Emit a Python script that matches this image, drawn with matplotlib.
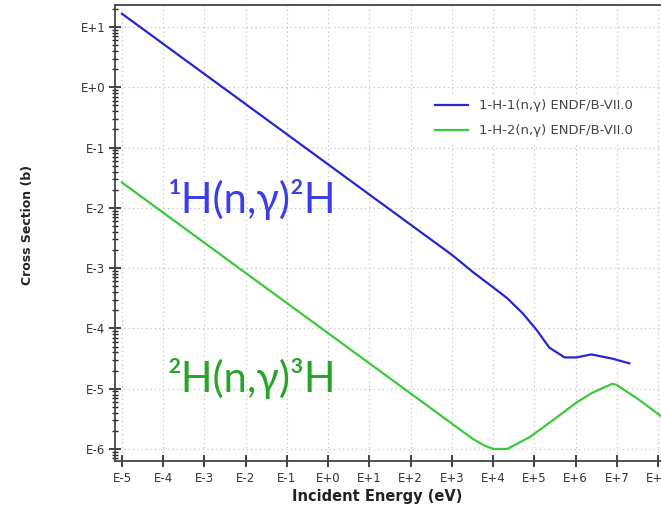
import matplotlib
matplotlib.use("Agg")
import matplotlib.pyplot as plt
from matplotlib.ticker import FixedLocator, FuncFormatter, NullLocator, NullFormatter
import numpy as np

# ---- data (energies in eV, cross sections in barns) ----
h1_energy = [1e-5, 1e-2, 1e1, 1e3, 3.3e3, 1e4, 2.2e4, 5.2e4, 1.15e5, 2.3e5,
             5.4e5, 1.05e6, 2.4e6, 7.6e6, 2.0e7]
h1_xs = [16.6, 0.525, 0.0166, 1.66e-3, 8.5e-4, 4.8e-4, 3.16e-4, 1.78e-4, 9.3e-5,
         4.8e-5, 3.3e-5, 3.3e-5, 3.7e-5, 3.16e-5, 2.63e-5]

h2_energy = [1e-5, 1e-2, 1e1, 1e3, 3.3e3, 6e3, 1e4, 2.2e4, 7.8e4, 2.8e5, 1.05e6,
             2.5e6, 7.6e6, 9.5e6, 3.4e7, 9e7, 1.5e8]
h2_xs = [0.0263, 8.3e-4, 2.63e-5, 2.63e-6, 1.45e-6, 1.15e-6, 1.0e-6, 1.0e-6, 1.58e-6,
         3.0e-6, 5.9e-6, 8.5e-6, 1.2e-5, 1.17e-5, 6.6e-6, 4.0e-6, 3.1e-6]

x_tick_exponents = list(range(-5, 9))
y_tick_exponents = list(range(-6, 2))

series_labels = ["1-H-1(n,\u03b3) ENDF/B-VII.0", "1-H-2(n,\u03b3) ENDF/B-VII.0"]
annot_h1 = "\u00b9H(n,\u03b3)\u00b2H"
annot_h2 = "\u00b2H(n,\u03b3)\u00b3H"

W, H = 661, 519
fig = plt.figure(figsize=(W / 100, H / 100), dpi=100)
fig.patch.set_facecolor("white")

left_px, right_px, top_px, bottom_px = 115, 661, 5, 461
ax = fig.add_axes([left_px / W, 1 - bottom_px / H, (right_px - left_px) / W,
                   (bottom_px - top_px) / H])

ax.plot(h1_energy, h1_xs, color="#2626d0", lw=1.6, label=series_labels[0])
ax.plot(h2_energy, h2_xs, color="#3cc83c", lw=1.6, label=series_labels[1])

ax.set_xscale("log")
ax.set_yscale("log")
ax.set_xlim(10 ** -5.169, 10 ** 8.07)
ax.set_ylim(10 ** -6.2, 10 ** 1.365)

ax.xaxis.set_major_locator(FixedLocator([10.0 ** e for e in x_tick_exponents]))
ax.xaxis.set_minor_locator(NullLocator())
ax.yaxis.set_major_locator(FixedLocator([10.0 ** e for e in y_tick_exponents]))
y_minor = [m * 10.0 ** e for e in range(-7, 2) for m in range(2, 10)
           if 10 ** -6.2 < m * 10.0 ** e < 10 ** 1.365]
ax.yaxis.set_minor_locator(FixedLocator(y_minor))

fmt = FuncFormatter(lambda v, p: "E%+d" % int(round(np.log10(v))))
ax.xaxis.set_major_formatter(fmt)
ax.yaxis.set_major_formatter(fmt)
ax.yaxis.set_minor_formatter(NullFormatter())

ax.tick_params(axis="both", which="major", direction="inout", length=8, width=1.2,
               colors="#222222", labelsize=8.5, labelcolor="#333333")
ax.tick_params(axis="y", which="minor", direction="inout", length=4, width=1.0,
               colors="#222222")
ax.tick_params(axis="x", pad=4)
ax.tick_params(axis="y", pad=3)

for s in ["left", "bottom", "top"]:
    ax.spines[s].set_color("#444444")
    ax.spines[s].set_linewidth(1.3)
ax.spines["right"].set_visible(False)

ax.grid(True, which="major", color="#c4c4c4", linestyle=(0, (1, 2.5)), lw=0.9)
ax.set_axisbelow(True)

ax.set_xlabel("Incident Energy (eV)", fontsize=10.5, fontweight="bold", color="#222222")
ax.xaxis.set_label_coords((377 - left_px) / (right_px - left_px),
                          (bottom_px - 497) / (bottom_px - top_px))
ax.xaxis.label.set_va("center")
ax.set_ylabel("Cross Section (b)", fontsize=9, fontweight="bold", color="#222222")
ax.yaxis.set_label_coords((28 - left_px) / (right_px - left_px),
                          (bottom_px - 225) / (bottom_px - top_px))
ax.yaxis.label.set_va("center")

leg = ax.legend(loc="upper left",
                bbox_to_anchor=((430 - left_px) / (right_px - left_px),
                                (bottom_px - 94) / (bottom_px - top_px)),
                borderaxespad=0, frameon=True, fontsize=9.5, handlelength=2.5,
                handletextpad=0.85, labelspacing=0.92, borderpad=0.4)
leg.get_frame().set_facecolor("white")
leg.get_frame().set_edgecolor("none")
leg.get_frame().set_alpha(1.0)
for t in leg.get_texts():
    t.set_color("#444444")

fig.text(168 / W, 1 - 213 / H, annot_h1, fontsize=30, color="#3c3ceb",
         family=["Lato", "DejaVu Sans"], va="baseline", ha="left")
fig.text(167 / W, 1 - 392 / H, annot_h2, fontsize=30, color="#28a528",
         family=["Lato", "DejaVu Sans"], va="baseline", ha="left")

fig.savefig("out.png", dpi=100, facecolor="white")
